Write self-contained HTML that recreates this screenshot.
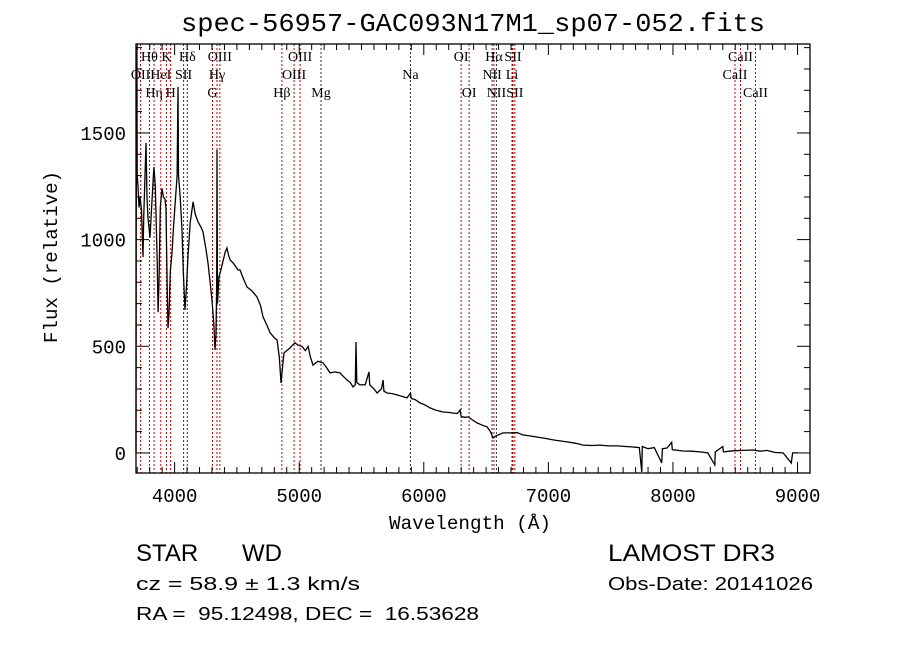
<!DOCTYPE html>
<html><head><meta charset="utf-8"><style>
html,body{margin:0;padding:0;background:#fff;}
svg{display:block;}
text{font-family:"Liberation Mono",monospace;fill:#000;white-space:pre;}
.lbl{font-family:"Liberation Serif",serif;font-size:14px;}
.info{font-family:"Liberation Sans",sans-serif;}
</style></head><body>
<svg id="chart" width="900" height="649" viewBox="0 0 900 649" xmlns="http://www.w3.org/2000/svg" xml:space="preserve">
<rect width="900" height="649" fill="#fff"/>
<text x="473" y="31" font-size="26" text-anchor="middle" textLength="584" lengthAdjust="spacingAndGlyphs">spec-56957-GAC093N17M1_sp07-052.fits</text>
<g id="lines"></g>
<g id="labels"></g>
<path id="spec" fill="none" stroke="#000" stroke-width="1.3"/>
<g id="axes"></g>
<text x="470" y="529" font-size="19" text-anchor="middle" textLength="162" lengthAdjust="spacingAndGlyphs">Wavelength (Å)</text>
<text transform="translate(57,257) rotate(-90)" font-size="19" text-anchor="middle" textLength="172" lengthAdjust="spacingAndGlyphs">Flux (relative)</text>
<text class="info" x="136" y="561" font-size="24">STAR</text>
<text class="info" x="242" y="561" font-size="24">WD</text>
<text class="info" x="608" y="561" font-size="24" textLength="167" lengthAdjust="spacingAndGlyphs">LAMOST DR3</text>
<text class="info" x="136" y="590" font-size="18" textLength="224" lengthAdjust="spacingAndGlyphs">cz = 58.9 ± 1.3 km/s</text>
<text class="info" x="608" y="590" font-size="18" textLength="205" lengthAdjust="spacingAndGlyphs">Obs-Date: 20141026</text>
<text class="info" x="136" y="620" font-size="18" textLength="343" lengthAdjust="spacingAndGlyphs">RA =  95.12498, DEC =  16.53628</text>
</svg>
<script>
const wavelengths = [3690,3692,3697,3700,3706,3714,3722,3734,3746,3752,3762,3770,3778,3786,3802,3815,3834,3845,3860,3867,3875,3885,3899,3910,3923,3931,3940,3947,3955,3965,3979,3990,4003,4020,4027,4031,4045,4059,4070,4083,4095,4107,4125,4148,4165,4188,4210,4228,4250,4268,4285,4300,4315,4324,4332,4338,4340,4344,4356,4372,4388,4405,4420,4432,4445,4470,4509,4525,4550,4581,4620,4661,4690,4709,4740,4766,4800,4822,4840,4854,4866,4878,4900,4926,4946,4966,4990,5022,5050,5071,5090,5111,5150,5191,5220,5247,5290,5327,5360,5384,5410,5432,5450,5456,5462,5488,5530,5560,5566,5600,5625,5660,5673,5680,5705,5745,5785,5825,5865,5893,5900,5930,5970,6010,6050,6100,6154,6200,6235,6270,6291,6300,6330,6355,6390,6427,6470,6508,6535,6556,6580,6636,6716,6750,6797,6850,6957,7050,7150,7220,7278,7350,7414,7480,7551,7620,7679,7730,7750,7754,7800,7850,7910,7915,7952,7990,7995,8081,8150,8217,8280,8336,8340,8400,8405,8482,8560,8643,8700,8755,8820,8884,8950,8960,9004];
const fluxes = [0,1050,1900,1300,1250,1150,1200,1140,918,1100,1300,1453,1200,1100,1010,1150,1340,1250,900,660,800,1150,1240,1200,1190,1145,800,585,650,850,937,1050,1160,1300,1716,1300,1200,1045,850,670,780,922,1080,1177,1120,1083,1060,1036,960,890,800,717,600,483,560,800,1420,700,825,860,899,940,961,930,905,890,858,858,820,778,760,731,690,638,600,563,540,530,450,328,400,469,480,492,505,516,505,500,480,500,450,412,430,422,400,375,380,375,355,342,330,309,320,520,330,319,320,380,320,300,281,300,342,290,281,278,272,265,258,280,255,250,234,225,211,200,192,190,187,185,201,170,167,169,155,141,130,122,100,70,80,94,94,95,84,80,70,60,52,45,37,35,37,33,33,30,28,25,-89,30,20,25,-47,20,23,50,15,9,8,5,0,-56,5,30,5,10,12,14,8,12,2,0,-47,0,0];
const lineNames = ["OII","Hθ","Hη","HeI","K","H","SII","Hδ","G","Hγ","OIII","Hβ","OIII","OIII","Mg","Na","OI","OI","NII","Hα","NII","Li","SII","SII","CaII","CaII","CaII"];
const lineWaves = [3727,3798,3835,3889,3934,3968,4072,4102,4304,4340,4363,4861,4959,5007,5175,5893,6300,6364,6548,6563,6583,6708,6716,6731,8498,8542,8662];
const lineRows = [2,1,3,2,1,3,2,1,3,2,1,3,2,1,3,2,1,3,2,1,3,2,1,3,2,1,3];
const lineRed = [1,1,1,1,1,1,0,0,1,1,1,1,1,1,0,0,1,1,0,1,0,1,1,1,1,1,1];
const xTicks = [4000,5000,6000,7000,8000,9000];
const yTicks = [0,500,1000,1500];

const L=136,R=810,T=44,B=473, X0=3690,X1=9100, Y0=-94,Y1=1917;
const xs = w => L + (w - X0) * (R - L) / (X1 - X0);
const ys = f => B - (f - Y0) * (B - T) / (Y1 - Y0);
const NS="http://www.w3.org/2000/svg";
function mk(tag, attrs, parent){const e=document.createElementNS(NS,tag);for(const k in attrs)e.setAttribute(k,attrs[k]);parent.appendChild(e);return e;}

let d="";
for(let i=0;i<wavelengths.length;i++){d+=(i?"L":"M")+xs(wavelengths[i]).toFixed(1)+","+ys(Math.max(Y0,Math.min(Y1,fluxes[i]))).toFixed(1);}
document.getElementById("spec").setAttribute("d",d);

const lg=document.getElementById("lines"), lb=document.getElementById("labels");
const rowY={1:61,2:79,3:97};
for(let i=0;i<lineWaves.length;i++){
  const x=xs(lineWaves[i]);
  const ln=mk("line",{x1:x,x2:x,y1:T,y2:B,stroke:lineRed[i]?"#c00000":"#333","stroke-width":1,"stroke-dasharray":"2,2"},lg);
  
  
  const t=mk("text",{x:x,y:rowY[lineRows[i]],"text-anchor":"middle",class:"lbl"},lb);
  t.textContent=lineNames[i];
  
  
}

const ax=document.getElementById("axes");
const frame=mk("rect",{x:L,y:T,width:R-L,height:B-T,fill:"none",stroke:"#000","stroke-width":1.3},ax);


for(let w=3700;w<=X1;w+=100){
  const x=xs(w), major=(w%1000===0), len=major?11:6;
  mk("line",{x1:x,x2:x,y1:B,y2:B-len,stroke:"#000","stroke-width":1},ax);
  mk("line",{x1:x,x2:x,y1:T,y2:T+len,stroke:"#000","stroke-width":1},ax);
}
for(let f=0;f<=Y1;f+=100){
  const y=ys(f), major=(f%500===0), len=major?13:6;
  mk("line",{x1:L,x2:L+len,y1:y,y2:y,stroke:"#000","stroke-width":1},ax);
  mk("line",{x1:R,x2:R-len,y1:y,y2:y,stroke:"#000","stroke-width":1},ax);
}
xTicks.forEach(v=>{
  const t=mk("text",{x:xs(v),y:502,"text-anchor":"middle","font-size":19,"font-family":"Liberation Sans, sans-serif"},ax);
  t.textContent=v;
  
  
});
yTicks.forEach(v=>{
  const t=mk("text",{x:126,y:ys(v)+7,"text-anchor":"end","font-size":19,"font-family":"Liberation Sans, sans-serif"},ax);
  t.textContent=v;
  
  
});
</script>
</body></html>
